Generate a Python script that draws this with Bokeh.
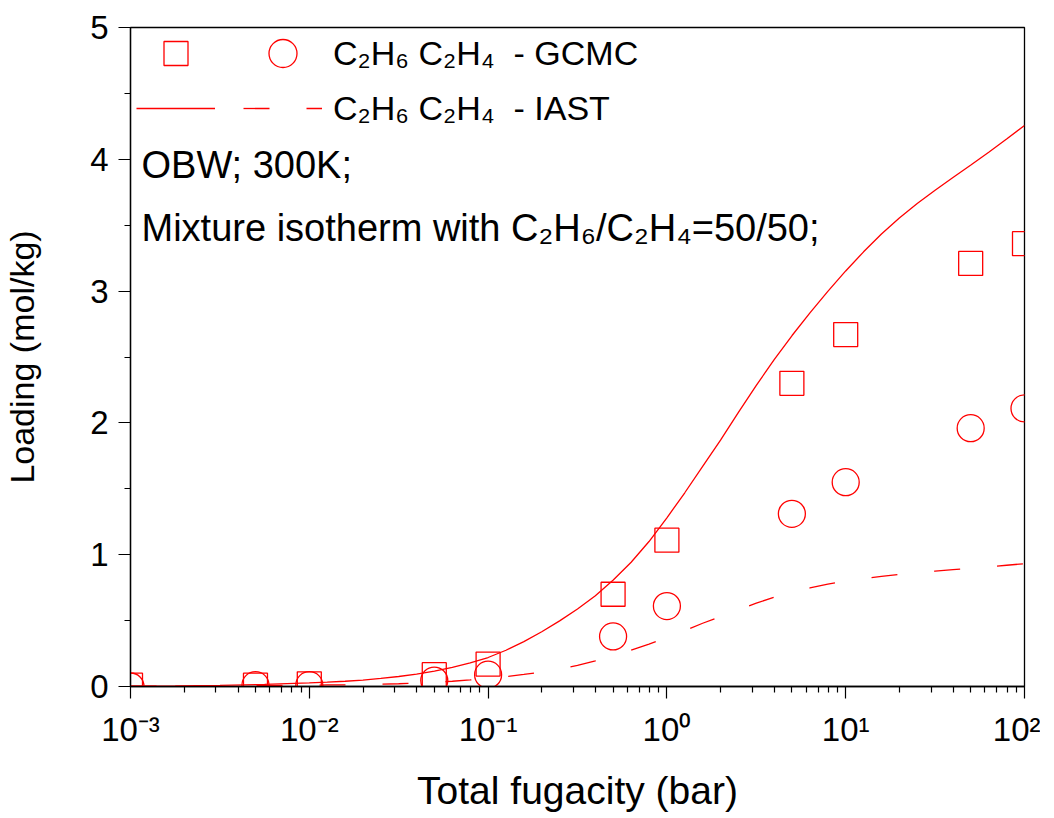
from bokeh.plotting import figure
from bokeh.models import (Range1d, FixedTicker, CustomJSTickFormatter, Legend,
                          LegendItem, Label)
from bokeh.core.properties import value
from bokeh.embed import file_html
from bokeh.resources import INLINE

# ---------------- data ----------------
fugacity = [0.001, 0.005, 0.01, 0.05, 0.1, 0.5, 1, 5, 10, 50, 100]
gcmc_c2h6 = [0.01, 0.01, 0.02, 0.09, 0.17, 0.70, 1.11, 2.30, 2.67, 3.21, 3.36]
gcmc_c2h4 = [0.0, 0.01, 0.01, 0.045, 0.09, 0.38, 0.61, 1.31, 1.55, 1.96, 2.11]

# IAST curves, read at these log10(fugacity) positions
iast_log_p = [-3.0, -2.75, -2.5, -2.25, -2.0, -1.9, -1.8, -1.7, -1.6, -1.5, -1.4,
              -1.3, -1.2, -1.1, -1.0, -0.9, -0.8, -0.7, -0.6, -0.5, -0.4, -0.3,
              -0.2, -0.1, 0.0, 0.1, 0.2, 0.3, 0.4, 0.5, 0.6, 0.7, 0.8, 0.9, 1.0,
              1.1, 1.2, 1.3, 1.4, 1.5, 1.6, 1.7, 1.8, 1.9, 2.0]
iast_c2h6 = [0.003, 0.005, 0.009, 0.016, 0.027, 0.033, 0.040, 0.049, 0.061, 0.076,
             0.094, 0.117, 0.145, 0.180, 0.220, 0.275, 0.340, 0.415, 0.498, 0.588,
             0.688, 0.808, 0.943, 1.100, 1.280, 1.470, 1.670, 1.870, 2.080, 2.285,
             2.480, 2.663, 2.835, 2.998, 3.153, 3.298, 3.433, 3.555, 3.665, 3.765,
             3.862, 3.957, 4.054, 4.154, 4.257]
iast_c2h4 = [0.002, 0.003, 0.005, 0.007, 0.010, 0.012, 0.013, 0.016, 0.018, 0.021,
             0.025, 0.031, 0.040, 0.050, 0.062, 0.075, 0.092, 0.110, 0.132, 0.160,
             0.195, 0.233, 0.275, 0.322, 0.370, 0.425, 0.480, 0.530, 0.583, 0.632,
             0.678, 0.716, 0.748, 0.776, 0.800, 0.820, 0.835, 0.850, 0.863, 0.875,
             0.886, 0.897, 0.908, 0.920, 0.932]
iast_p = [10 ** e for e in iast_log_p]

x_major_ticks = [1e-3, 1e-2, 1e-1, 1e0, 1e1, 1e2]
y_major_ticks = [0, 1, 2, 3, 4, 5]
y_minor_ticks = [0.5, 1.5, 2.5, 3.5, 4.5]

legend_gcmc = "C\u2082H\u2086 C\u2082H\u2084  - GCMC"
legend_iast = "C\u2082H\u2086 C\u2082H\u2084  - IAST"
note_1 = "OBW; 300K;"
note_2 = "Mixture isotherm with C\u2082H\u2086/C\u2082H\u2084=50/50;"
x_label = "Total fugacity (bar)"
y_label = "Loading (mol/kg)"

FONT = "Liberation Sans"
RED = "#FF0000"

x_minor_ticks = [t * m for t in x_major_ticks[:-1] for m in range(2, 10)]

# ---------------- figure ----------------
p = figure(width=1040, height=814, x_axis_type="log",
           x_range=Range1d(1e-3, 1e2), y_range=Range1d(0, 5),
           output_backend="svg", toolbar_location=None,
           min_border_left=130, min_border_right=16,
           min_border_top=27, min_border_bottom=125)

p.xgrid.grid_line_color = None
p.ygrid.grid_line_color = None
p.outline_line_color = "black"
p.outline_line_width = 1.3
p.background_fill_color = "white"
p.border_fill_color = "white"

for ax in (p.xaxis, p.yaxis):
    ax.axis_line_color = "black"
    ax.axis_line_width = 1.3
    ax.major_tick_line_color = "black"
    ax.minor_tick_line_color = "black"
    ax.major_tick_line_width = 1.2
    ax.minor_tick_line_width = 1.2
    ax.major_tick_in = 0
    ax.major_tick_out = 12
    ax.minor_tick_in = 0
    ax.minor_tick_out = 6
    ax.major_label_text_font = FONT
    ax.major_label_text_font_size = "33px"
    ax.major_label_text_color = "black"
    ax.axis_label_text_font = FONT
    ax.axis_label_text_font_style = "normal"
    ax.axis_label_text_color = "black"

p.xaxis.ticker = FixedTicker(ticks=x_major_ticks, minor_ticks=x_minor_ticks)
p.xaxis.formatter = CustomJSTickFormatter(code="""
const sup = {"-": "\u207b", "0": "\u2070", "1": "\u00b9", "2": "\u00b2", "3": "\u00b3",
             "4": "\u2074", "5": "\u2075", "6": "\u2076", "7": "\u2077", "8": "\u2078", "9": "\u2079"};
const e = Math.round(Math.log10(tick));
return "10" + String(e).split("").map(c => sup[c]).join("");
""")
p.xaxis.major_label_standoff = 12
p.xaxis.axis_label = x_label
p.xaxis.axis_label_text_font_size = "39px"
p.xaxis.axis_label_standoff = 18

p.yaxis.ticker = FixedTicker(ticks=y_major_ticks, minor_ticks=y_minor_ticks)
p.yaxis.major_label_standoff = 10
p.yaxis.axis_label = y_label
p.yaxis.axis_label_text_font_size = "34px"
p.yaxis.axis_label_standoff = 46

# ---------------- glyphs ----------------
solid = p.line(iast_p, iast_c2h6, line_color=RED, line_width=1.3)
dashed = p.line(iast_p, iast_c2h4, line_color=RED, line_width=1.3, line_dash="26 37")
sq = p.scatter(fugacity, gcmc_c2h6, marker="square", size=24, fill_color=None,
               line_color=RED, line_width=1.3)
ci = p.scatter(fugacity, gcmc_c2h4, marker="circle", size=27, fill_color=None,
               line_color=RED, line_width=1.3)

# ---------------- legends ----------------
common = dict(orientation="horizontal", glyph_width=79, label_standoff=11,
              label_width=0, spacing=17, padding=0, margin=0,
              border_line_color=None, background_fill_alpha=0,
              label_text_font=FONT, label_text_font_size="34px",
              label_text_color="black")

leg_sq = Legend(items=[LegendItem(label=value(""), renderers=[sq])],
                location=(6, 603), glyph_height=60, **common)
leg_ci = Legend(items=[LegendItem(label=value(legend_gcmc), renderers=[ci])],
                location=(113, 598), glyph_height=70, **common)
leg_ln = Legend(items=[LegendItem(label=value(""), renderers=[solid]),
                       LegendItem(label=value(legend_iast), renderers=[dashed])],
                location=(6, 558), glyph_height=40, **common)
for lg in (leg_sq, leg_ci, leg_ln):
    p.add_layout(lg, "center")

# ---------------- notes ----------------
for txt, yy in ((note_1, 522), (note_2, 459)):
    p.add_layout(Label(x=11, y=yy, x_units="screen", y_units="screen", text=txt,
                       text_font=FONT, text_font_size="38px", text_color="black",
                       text_baseline="alphabetic", text_align="left"))

open("out.html", "w").write(file_html(p, INLINE))
